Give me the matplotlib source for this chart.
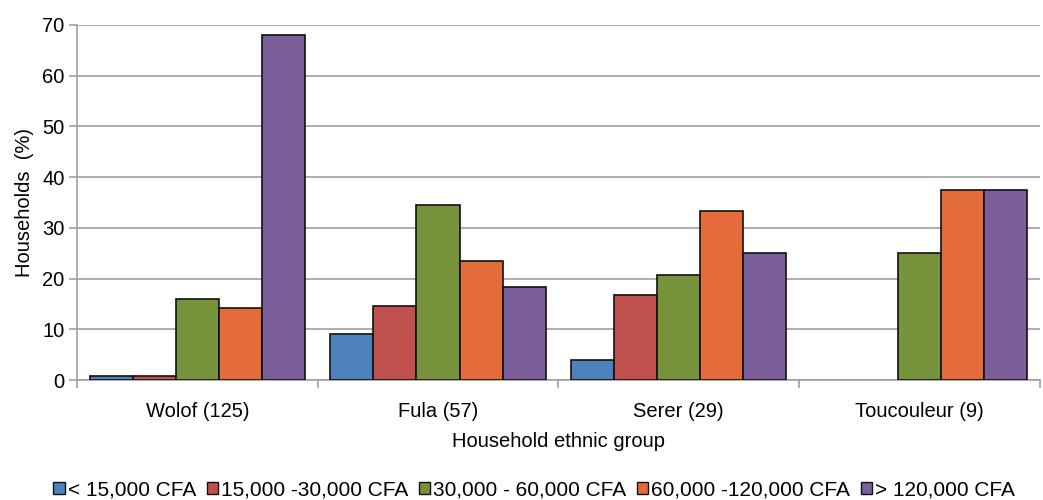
import matplotlib.pyplot as plt
import numpy as np

plt.rcParams['font.family'] = ['Liberation Sans', 'DejaVu Sans']

groups = ["Wolof (125)", "Fula (57)", "Serer (29)", "Toucouleur (9)"]
income_bands = ["< 15,000 CFA", "15,000 -30,000 CFA", "30,000 - 60,000 CFA",
                "60,000 -120,000 CFA", "> 120,000 CFA"]
lt_15k = [0.8, 9.0, 4.0, 0.0]
k15_30 = [0.8, 14.6, 16.7, 0.0]
k30_60 = [16.0, 34.6, 20.7, 25.0]
k60_120 = [14.2, 23.5, 33.4, 37.5]
gt_120k = [68.0, 18.3, 25.0, 37.5]

series = [lt_15k, k15_30, k30_60, k60_120, gt_120k]
colors = ["#4f81bd", "#c0504d", "#77933c", "#e46c3a", "#7a5f9a"]
fs = 14.5

fig = plt.figure(figsize=(10.43, 5.0), dpi=100)
ax = fig.add_axes([0.0738, 0.24, 0.923, 0.71])

x = np.arange(len(groups))
width = 0.179
for i, (vals, c, lab) in enumerate(zip(series, colors, income_bands)):
    # empty categories get no outline
    lw = [1.2 if v > 0 else 0 for v in vals]
    ax.bar(x + (i - 2) * width, vals, width, color=c, edgecolor="#111111",
           linewidth=lw, label=lab, zorder=3)

ax.set_xlim(-0.5, len(groups) - 0.5)
ax.set_ylim(0, 70)
ax.set_yticks(range(0, 71, 10))
ax.yaxis.grid(True, color="#a0a0a0", linewidth=1.2, zorder=0)

ax.set_xticks(x)
ax.set_xticklabels(groups, fontsize=fs)
ax.set_xticks(np.arange(-0.5, len(groups)), minor=True)
ax.tick_params(axis="x", which="major", length=0, pad=16)
ax.tick_params(axis="x", which="minor", length=6, color="#a0a0a0", width=1.2)
ax.tick_params(axis="y", length=6, color="#a0a0a0", width=1.2, labelsize=fs, pad=3)

for side in ["top", "right"]:
    ax.spines[side].set_visible(False)
for side in ["left", "bottom"]:
    ax.spines[side].set_color("#a0a0a0")
    ax.spines[side].set_linewidth(1.2)

ax.set_ylabel("Households  (%)", fontsize=fs, labelpad=6)
ax.set_xlabel("Household ethnic group", fontsize=fs, labelpad=8)

leg = ax.legend(loc="center", bbox_to_anchor=(0.475, -0.31), ncol=5, frameon=False,
                fontsize=15, handlelength=0.55, handleheight=0.55,
                handletextpad=0.15, columnspacing=0.5, borderaxespad=0)
for h in leg.legend_handles:
    h.set_linewidth(1.0)

fig.savefig("out.png", dpi=100)
